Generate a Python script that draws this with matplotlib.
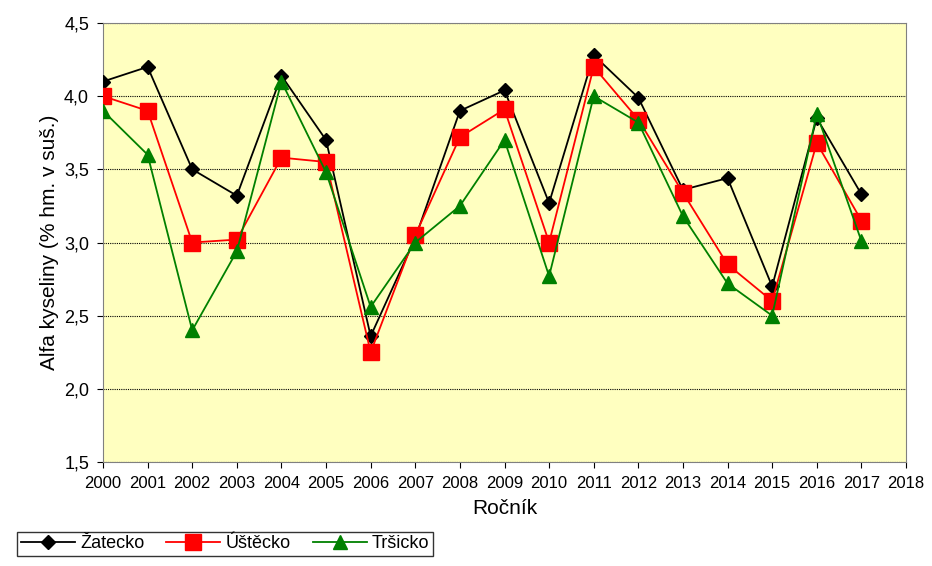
import matplotlib
matplotlib.use("Agg")
import matplotlib.pyplot as plt

years = list(range(2000, 2018))
zatecko = [4.10, 4.20, 3.50, 3.32, 4.14, 3.70, 2.36, 3.03, 3.90, 4.04, 3.27, 4.28, 3.99, 3.36, 3.44, 2.70, 3.85, 3.33]
ustecko = [4.00, 3.90, 3.00, 3.02, 3.58, 3.55, 2.25, 3.05, 3.72, 3.91, 3.00, 4.20, 3.84, 3.34, 2.85, 2.60, 3.68, 3.15]
trsicko = [3.90, 3.60, 2.40, 2.94, 4.10, 3.48, 2.56, 3.00, 3.25, 3.70, 2.77, 4.00, 3.82, 3.18, 2.72, 2.50, 3.88, 3.01]
xticks = list(range(2000, 2019))
yticks = [1.5, 2.0, 2.5, 3.0, 3.5, 4.0, 4.5]

plt.rcParams["font.family"] = "Liberation Sans"
fig = plt.figure(figsize=(9.32, 5.66), dpi=100)
ax = fig.add_axes([103/932, 1-462/566, (906-103)/932, (462-23)/566])
ax.set_facecolor("#FFFFC0")
ax.plot(years, zatecko, color="black", marker="D", markersize=7, lw=1.3, label="Žatecko", zorder=3)
ax.plot(years, ustecko, color="red", marker="s", markersize=11, lw=1.3, label="Úštěcko", zorder=3)
ax.plot(years, trsicko, color="green", marker="^", markersize=10, lw=1.3, label="Tršicko", zorder=3)
ax.set_xlim(2000, 2018)
ax.set_ylim(1.5, 4.5)
ax.set_xticks(xticks)
ax.set_xticklabels([str(x) for x in xticks], fontsize=12)
ax.set_yticks(yticks)
ax.set_yticklabels([f"{y:.1f}".replace(".", ",") for y in yticks], fontsize=13)
ax.yaxis.grid(True, color="black", linestyle=(0, (1, 1)), lw=0.8)
ax.set_axisbelow(True)
ax.tick_params(axis="x", direction="out", length=4, pad=6)
ax.tick_params(axis="y", direction="out", length=4, pad=6)
ax.set_xlabel("Ročník", fontsize=15, labelpad=6)
ax.set_ylabel("Alfa kyseliny (% hm. v suš.)", fontsize=15)
for s in ax.spines.values():
    s.set_color("#808080")
leg = fig.legend(loc="lower left", bbox_to_anchor=(8/932, 1/566), ncol=3, fontsize=13,
                 frameon=True, fancybox=False, edgecolor="black", handlelength=3,
                 borderpad=0.2, columnspacing=1.2, handletextpad=0.3)
fig.savefig("out.png", dpi=100)
